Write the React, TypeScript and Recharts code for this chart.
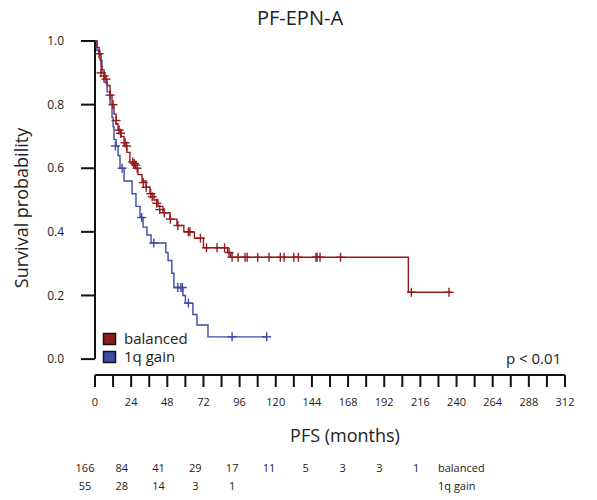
import {
  ComposedChart,
  Line,
  Scatter,
  XAxis,
  YAxis,
  ReferenceLine,
} from "recharts";

const FONT = "'Open Sans', 'Noto Sans', sans-serif";
const RED = "#931b1b";
const BLUE = "#3b4aa6";

// Kaplan-Meier estimates: t in months, s = survival probability after the step
const balancedSteps = [
  { t: 0, s: 1.0 }, { t: 1.3, s: 0.98 }, { t: 2.7, s: 0.96 }, { t: 4, s: 0.92 },
  { t: 4.6, s: 0.9 }, { t: 6.6, s: 0.88 }, { t: 8, s: 0.86 }, { t: 10, s: 0.83 },
  { t: 11.3, s: 0.8 }, { t: 12.6, s: 0.77 }, { t: 14, s: 0.74 }, { t: 15.3, s: 0.72 },
  { t: 17.3, s: 0.7 }, { t: 19.3, s: 0.67 }, { t: 21.2, s: 0.65 }, { t: 23.2, s: 0.62 },
  { t: 25.9, s: 0.6 }, { t: 28.5, s: 0.58 }, { t: 31.2, s: 0.56 }, { t: 33.9, s: 0.54 },
  { t: 36.5, s: 0.52 }, { t: 39.2, s: 0.5 }, { t: 41.8, s: 0.48 }, { t: 45.1, s: 0.46 },
  { t: 49.8, s: 0.44 }, { t: 54.4, s: 0.42 }, { t: 59, s: 0.4 }, { t: 66, s: 0.38 },
  { t: 72, s: 0.35 }, { t: 88, s: 0.335 }, { t: 90, s: 0.32 }, { t: 208, s: 0.21 },
  { t: 236, s: 0.21 },
];

const gainSteps = [
  { t: 0, s: 1.0 }, { t: 1.3, s: 0.97 }, { t: 3.3, s: 0.94 }, { t: 4.6, s: 0.91 },
  { t: 6, s: 0.87 }, { t: 8, s: 0.84 }, { t: 10, s: 0.8 }, { t: 11.3, s: 0.76 },
  { t: 12, s: 0.73 }, { t: 12.6, s: 0.69 }, { t: 14, s: 0.67 }, { t: 15.3, s: 0.64 },
  { t: 16.6, s: 0.6 }, { t: 19.3, s: 0.56 }, { t: 24.6, s: 0.52 }, { t: 27.2, s: 0.48 },
  { t: 29.9, s: 0.445 }, { t: 31.9, s: 0.415 }, { t: 34.5, s: 0.39 }, { t: 37.2, s: 0.365 },
  { t: 47, s: 0.335 }, { t: 48.5, s: 0.31 }, { t: 51, s: 0.27 }, { t: 52.4, s: 0.225 },
  { t: 58.4, s: 0.2 }, { t: 60, s: 0.176 }, { t: 65, s: 0.14 }, { t: 67.7, s: 0.107 },
  { t: 75, s: 0.07 }, { t: 114, s: 0.07 },
];

// censored observations
const balancedCensored = [
  { t: 2.7, s: 0.96 }, { t: 4, s: 0.9 }, { t: 6, s: 0.89 }, { t: 7.3, s: 0.88 },
  { t: 10, s: 0.83 }, { t: 12, s: 0.8 }, { t: 14, s: 0.75 }, { t: 16, s: 0.72 },
  { t: 17, s: 0.71 }, { t: 20, s: 0.68 }, { t: 21, s: 0.67 }, { t: 25, s: 0.62 },
  { t: 26, s: 0.615 }, { t: 27, s: 0.61 }, { t: 28, s: 0.6 }, { t: 32, s: 0.555 },
  { t: 34, s: 0.54 }, { t: 37, s: 0.52 }, { t: 38, s: 0.51 }, { t: 41, s: 0.49 },
  { t: 43, s: 0.47 }, { t: 46, s: 0.46 }, { t: 50, s: 0.44 }, { t: 55, s: 0.42 },
  { t: 62, s: 0.4 }, { t: 63, s: 0.4 }, { t: 70, s: 0.38 }, { t: 74, s: 0.35 },
  { t: 81, s: 0.35 }, { t: 86, s: 0.35 }, { t: 89, s: 0.335 }, { t: 91, s: 0.32 },
  { t: 95, s: 0.32 }, { t: 99.6, s: 0.32 }, { t: 101, s: 0.32 }, { t: 108, s: 0.32 },
  { t: 115.5, s: 0.32 }, { t: 123, s: 0.32 }, { t: 125.5, s: 0.32 }, { t: 132, s: 0.32 },
  { t: 135, s: 0.32 }, { t: 146.7, s: 0.32 }, { t: 147.4, s: 0.32 }, { t: 149.4, s: 0.32 },
  { t: 163, s: 0.32 }, { t: 210, s: 0.21 }, { t: 235, s: 0.21 },
];

const gainCensored = [
  { t: 13.5, s: 0.67 }, { t: 18, s: 0.6 }, { t: 31, s: 0.445 }, { t: 39, s: 0.365 },
  { t: 55, s: 0.225 }, { t: 57, s: 0.225 }, { t: 58, s: 0.225 }, { t: 62, s: 0.176 },
  { t: 91, s: 0.07 }, { t: 114, s: 0.07 },
];

const xTicks = [0, 12, 24, 36, 48, 60, 72, 84, 96, 108, 120, 132, 144, 156, 168, 180, 192, 204, 216, 228, 240, 252, 264, 276, 288, 300, 312];
const yTicks = [0, 0.2, 0.4, 0.6, 0.8, 1.0];

// numbers at risk
const riskTimes = [0, 24, 48, 72, 96, 120, 144, 168, 192, 216];
const riskBalanced = [166, 84, 41, 29, 17, 11, 5, 3, 3, 1];
const riskGain = [55, 28, 14, 3, 1];

const groups = [
  { name: "balanced", color: RED },
  { name: "1q gain", color: BLUE },
];

function Cross(props: any) {
  const { cx, cy, fill } = props;
  const h = 4.5;
  return (
    <g stroke={fill} strokeWidth={1.4}>
      <line x1={cx - h} y1={cy} x2={cx + h} y2={cy} />
      <line x1={cx} y1={cy - h} x2={cx} y2={cy + h} />
    </g>
  );
}

function XTick(props: any) {
  const { x, y, payload } = props;
  if (payload.value % 24 !== 0) return <g />;
  return (
    <text x={x} y={y + 11} textAnchor="middle" fontSize={11} fontFamily={FONT} fill="#222">
      {payload.value}
    </text>
  );
}

// risk table columns sit slightly left of the axis ticks
const riskX = (t: number) => 85 + t * 1.533;

export default function App() {
  return (
    <div style={{ position: "absolute", left: 0, top: 0, width: 597, height: 500, background: "#fff" }}>
      <div
        style={{
          position: "absolute",
          top: 4,
          left: 0,
          width: 600,
          textAlign: "center",
          fontFamily: FONT,
          fontSize: 20,
          color: "#222",
        }}
      >
        PF-EPN-A
      </div>
      <ComposedChart
        width={597}
        height={500}
        margin={{ top: 41, right: 32, bottom: 95, left: 55 }}
      >
        <XAxis
          type="number"
          dataKey="t"
          domain={[0, 312]}
          ticks={xTicks}
          interval={0}
          height={30}
          tick={<XTick />}
          tickSize={12}
          tickMargin={8}
          tickLine={{ stroke: "#111", strokeWidth: 2 }}
          axisLine={{ stroke: "#111", strokeWidth: 2 }}
          allowDataOverflow
        />
        <YAxis
          type="number"
          dataKey="s"
          domain={[-0.05, 1]}
          ticks={yTicks}
          width={40}
          tickSize={14}
          tickMargin={17}
          tickFormatter={(v: number) => v.toFixed(1)}
          tick={{ fontSize: 12, fill: "#222", fontFamily: FONT }}
          tickLine={{ stroke: "#111", strokeWidth: 2 }}
          axisLine={false}
          label={{
            value: "Survival probability",
            angle: -90,
            position: "insideLeft",
            offset: -33,
            style: { fontSize: 18, fontFamily: FONT, fill: "#222", textAnchor: "middle" },
          }}
        />
        <ReferenceLine
          segment={[{ x: 0, y: 0 }, { x: 0, y: 1 }]}
          stroke="#111"
          strokeWidth={2}
          ifOverflow="visible"
        />
        <Line
          data={gainSteps}
          dataKey="s"
          type="stepAfter"
          stroke={BLUE}
          strokeWidth={1.4}
          dot={false}
          isAnimationActive={false}
        />
        <Line
          data={balancedSteps}
          dataKey="s"
          type="stepAfter"
          stroke={RED}
          strokeWidth={1.4}
          dot={false}
          isAnimationActive={false}
        />
        <Scatter data={gainCensored} dataKey="s" fill={BLUE} shape={<Cross />} isAnimationActive={false} />
        <Scatter data={balancedCensored} dataKey="s" fill={RED} shape={<Cross />} isAnimationActive={false} />
      </ComposedChart>
      <svg
        width={120}
        height={40}
        style={{ position: "absolute", left: 100, top: 328 }}
        fontFamily={FONT}
        fontSize={15}
        fill="#222"
      >
        {groups.map((g, i) => (
          <g key={g.name}>
            <rect
              x={3.5}
              y={5.5 + i * 18}
              width={12}
              height={11}
              fill={g.color}
              stroke="#111"
              strokeWidth={1.5}
            />
            <text x={24} y={16 + i * 18}>
              {g.name}
            </text>
          </g>
        ))}
      </svg>
      <div
        style={{
          position: "absolute",
          left: 506,
          top: 348,
          fontFamily: FONT,
          fontSize: 15,
          color: "#222",
        }}
      >
        p &lt; 0.01
      </div>
      <div
        style={{
          position: "absolute",
          left: 0,
          top: 423,
          width: 690,
          textAlign: "center",
          fontFamily: FONT,
          fontSize: 18,
          color: "#222",
        }}
      >
        PFS (months)
      </div>
      <svg
        width={597}
        height={60}
        style={{ position: "absolute", left: 0, top: 450 }}
        fontFamily={FONT}
        fontSize={11}
        fill="#222"
      >
        {riskBalanced.map((n, i) => (
          <text key={"b" + i} x={riskX(riskTimes[i])} y={22} textAnchor="middle">
            {n}
          </text>
        ))}
        {riskGain.map((n, i) => (
          <text key={"g" + i} x={riskX(riskTimes[i])} y={40} textAnchor="middle">
            {n}
          </text>
        ))}
        <text x={438} y={22}>balanced</text>
        <text x={438} y={40}>1q gain</text>
      </svg>
    </div>
  );
}
